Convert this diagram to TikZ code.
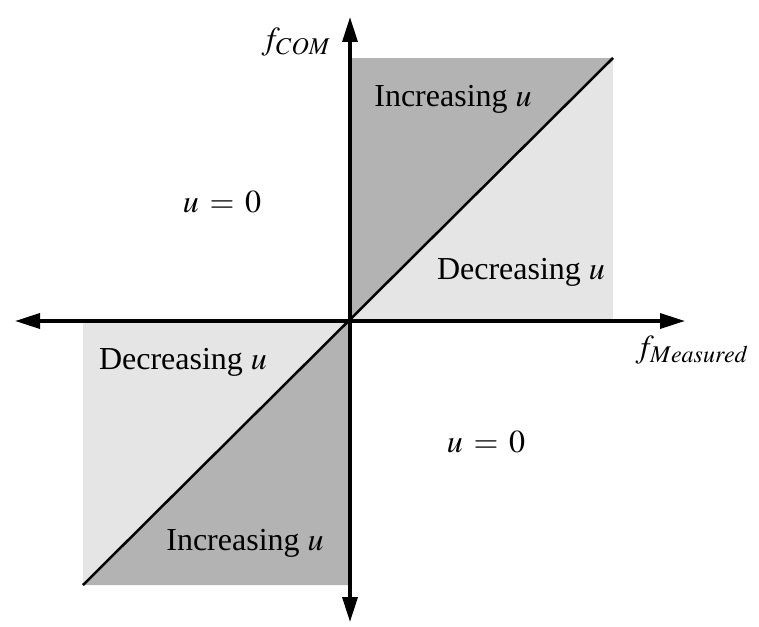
\documentclass[tikz,border=0pt]{standalone}
\usepackage{mathptmx}
\usepackage{fontspec}
\setmainfont{Liberation Serif}
\DeclareMathSizes{32}{32}{24}{18}
\usetikzlibrary{arrows.meta}
\definecolor{RegionDark}{HTML}{B3B3B3}
\definecolor{RegionLight}{HTML}{E5E5E5}

\begin{document}
\begin{tikzpicture}[x=1pt,y=-1pt,>={Triangle[length=25pt,width=15pt]},
  font=\fontsize{32}{38}\selectfont]
  \useasboundingbox (0,0) rectangle (759,626);
  % axes end points
  \coordinate (O) at (350,321);
  \coordinate (xmin) at (15,321);
  \coordinate (xmax) at (685,321);
  \coordinate (ymax) at (350,17);
  \coordinate (ymin) at (350,622);
  \coordinate (ur) at (613,58);
  \coordinate (ll) at (83,585);
  % shaded regions
  \fill[RegionLight] (O) rectangle (ur);
  \fill[RegionDark] (O) -- (O|-ur) -- (ur) -- cycle;
  \fill[RegionLight] (ll) rectangle (O);
  \fill[RegionDark] (O) -- (O|-ll) -- (ll) -- cycle;
  \draw[line width=2.5pt] (ll) -- (ur);
  \draw[line width=3.5pt,<->] (xmin) -- (xmax);
  \draw[line width=3.5pt,<->] (ymin) -- (ymax);
  % labels
  \node (fcom) at (296,42) {$f_{COM}$};
  \node (fmeas) at (692,350) {$f_{Measured}$};
  \node[anchor=base] (incup) at (453,106) {Increasing $u$};
  \node[anchor=base] (decup) at (521,279) {Decreasing $u$};
  \node[anchor=base] (zeroup) at (222,212) {$u\,=\,0$};
  \node[anchor=base] (declo) at (183,369) {Decreasing $u$};
  \node[anchor=base] (inclo) at (245,550) {Increasing $u$};
  \node[anchor=base] (zerolo) at (486,452) {$u\,=\,0$};
\end{tikzpicture}
\end{document}
